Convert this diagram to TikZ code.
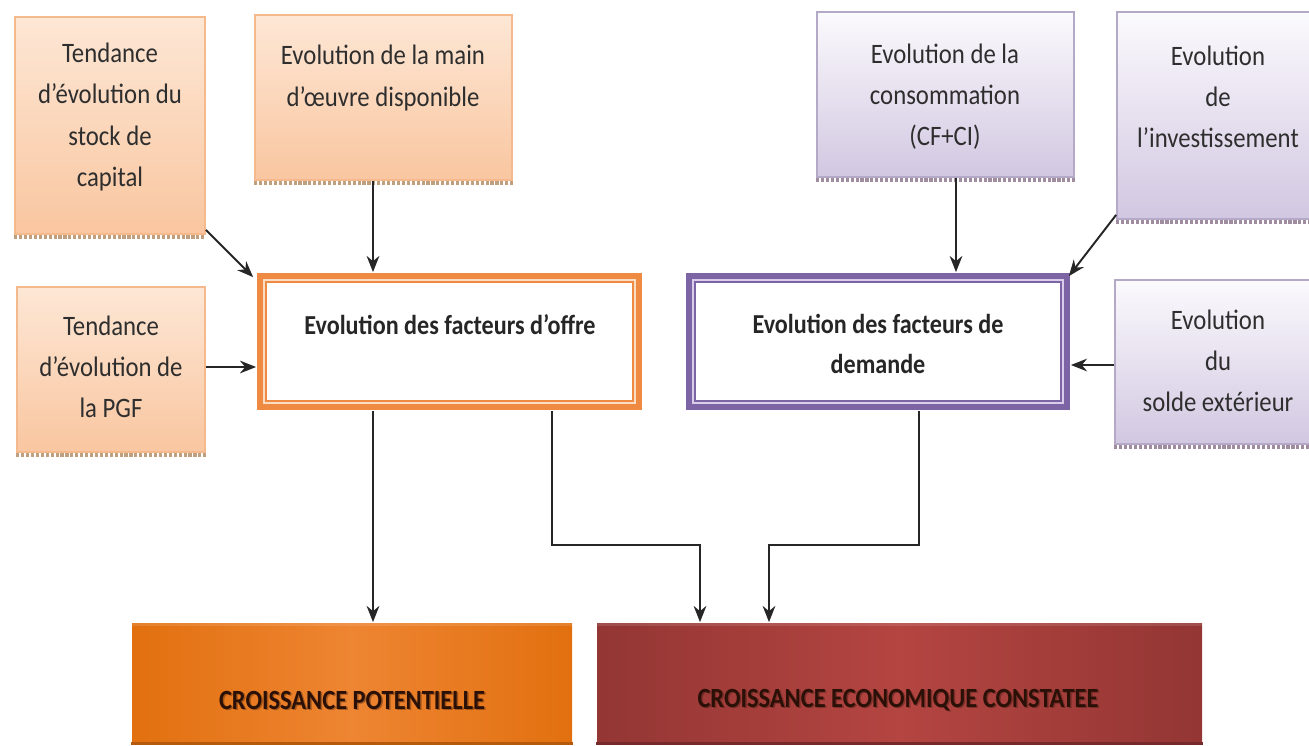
\documentclass[tikz,border=0pt]{standalone}
\usepackage{fontspec}
\setmainfont{Carlito}[FakeStretch=0.88]
\usetikzlibrary{arrows.meta,calc,fit}

\definecolor{peachtop}{HTML}{FDE7D5}
\definecolor{peachbot}{HTML}{F9C6A0}
\definecolor{peachedge}{HTML}{F4B98C}
\definecolor{lilactop}{HTML}{FBFAFD}
\definecolor{lilacbot}{HTML}{D2C7E1}
\definecolor{lilacedge}{HTML}{B4A9C6}
\definecolor{offreband}{HTML}{EF8A42}
\definecolor{offrelight}{HTML}{FBDDC6}
\definecolor{demband}{HTML}{7C64A5}
\definecolor{demlight}{HTML}{D9CDEB}
\definecolor{potedge}{HTML}{E2700F}
\definecolor{potmid}{HTML}{EE8532}
\definecolor{redge}{HTML}{933634}
\definecolor{redmid}{HTML}{B44541}
\definecolor{txt}{HTML}{2E2E2E}
\definecolor{deeptxt}{HTML}{2A1006}

\tikzset{
  boxbase/.style={inner sep=0pt, line width=0.5pt},
  peachbox/.style={boxbase, draw=peachedge, top color=peachtop, bottom color=peachbot},
  lilacbox/.style={boxbase, draw=lilacedge, top color=lilactop, bottom color=lilacbot},
  boxshadow/.style={line width=1.1pt, dash pattern=on 0.9pt off 0.5pt, draw opacity=0.75},
  smalltext/.style={align=center, text=txt, font=\fontsize{8}{11.7}\selectfont},
  midtext/.style={align=center, text=black!85, font=\bfseries\fontsize{7.8}{11.2}\selectfont},
  bigtext/.style={text=deeptxt, font=\bfseries\fontsize{7.9}{9}\selectfont},
  arr/.style={draw=black!85, line width=0.55pt, -{Stealth[length=4.6pt, width=3.6pt]}},
}

\begin{document}
\begin{tikzpicture}[x=0.01cm, y=-0.01cm]
\useasboundingbox (0,0) rectangle (1309,745);
\clip (0,0) rectangle (1309,745);
\fill[white] (0,0) rectangle (1309,745);

% ---------- supply side inputs ----------
\node[peachbox, fit={(15,17) (205,234)}] (A) {};
\node[peachbox, fit={(255,15) (512,180)}] (B) {};
\node[peachbox, fit={(17,287) (205,452)}] (C) {};
\draw[boxshadow, draw=brown!70!gray] ([yshift=-0.6pt]A.south west) -- ([yshift=-0.6pt]A.south east);
\draw[boxshadow, draw=brown!70!gray] ([yshift=-0.6pt]B.south west) -- ([yshift=-0.6pt]B.south east);
\draw[boxshadow, draw=brown!70!gray] ([yshift=-0.6pt]C.south west) -- ([yshift=-0.6pt]C.south east);
\node[smalltext] (tA) at (110,117) {Tendance\\d’évolution du\\stock de\\capital};
\node[smalltext] (tB) at (383,78) {Evolution de la main\\d’œuvre disponible};
\node[smalltext] (tC) at (111,367) {Tendance\\d’évolution de\\la PGF};

% ---------- demand side inputs ----------
\node[lilacbox, fit={(817,12) (1074,177)}] (D) {};
\node[lilacbox, fit={(1117,12) (1330,219)}] (E) {};
\node[lilacbox, fit={(1115,280) (1330,444)}] (F) {};
\draw[boxshadow, draw=gray!80!violet] ([yshift=-0.6pt]D.south west) -- ([yshift=-0.6pt]D.south east);
\draw[boxshadow, draw=gray!80!violet] ([yshift=-0.6pt]E.south west) -- ([yshift=-0.6pt]E.south east);
\draw[boxshadow, draw=gray!80!violet] ([yshift=-0.6pt]F.south west) -- ([yshift=-0.6pt]F.south east);
\node[smalltext] (tD) at (945,97) {Evolution de la\\consommation\\(CF+CI)};
\node[smalltext] (tE) at (1218,97) {Evolution\\de\\l’investissement};
\node[smalltext] (tF) at (1218,361) {Evolution\\du\\solde extérieur};

% ---------- factor boxes (double frame) ----------
\node[boxbase, fill=offreband, fit={(257,273) (642,410)}] (offre) {};
\fill[offrelight] ($(offre.north west)+(7,7)$) rectangle ($(offre.south east)+(-7,-7)$);
\draw[draw=offreband, line width=0.45pt, fill=white] ($(offre.north west)+(10,10)$) rectangle ($(offre.south east)+(-10,-10)$);
\node[midtext] (tO) at (450,325) {Evolution des facteurs d’offre};

\node[boxbase, fill=demband, fit={(686,273) (1070,410)}] (dem) {};
\fill[demlight] ($(dem.north west)+(7,7)$) rectangle ($(dem.south east)+(-7,-7)$);
\draw[draw=demband, line width=0.45pt, fill=white] ($(dem.north west)+(10,10)$) rectangle ($(dem.south east)+(-10,-10)$);
\node[midtext] (tG) at (878,344) {Evolution des facteurs de\\demande};

% ---------- outcomes ----------
\node[boxbase, left color=potedge, right color=potedge, middle color=potmid,
      fit={(132,623) (572,743)}] (pot) {};
\node[boxbase, left color=redge, right color=redge, middle color=redmid,
      fit={(597,623) (1202,743)}] (obs) {};
\fill[white, opacity=0.12] (pot.north west) rectangle ($(pot.north east)+(0,4)$);
\fill[white, opacity=0.12] (obs.north west) rectangle ($(obs.north east)+(0,4)$);
\draw[line width=0.8pt, draw=potedge!80!black] (pot.south west) -- (pot.south east);
\draw[line width=0.8pt, draw=redge!80!black] (obs.south west) -- (obs.south east);
\node[bigtext, text opacity=0.35] at (353.5,701.5) {CROISSANCE POTENTIELLE};
\node[bigtext] (tP) at (352,700) {CROISSANCE POTENTIELLE};
\node[bigtext, text opacity=0.35] at (899.5,701.5) {CROISSANCE ECONOMIQUE CONSTATEE};
\node[bigtext] (tQ) at (898,700) {CROISSANCE ECONOMIQUE CONSTATEE};

% ---------- helper columns and rows for the connectors ----------
\coordinate (c373) at (373,0);
\coordinate (c552) at (552,0);
\coordinate (c700) at (700,0);
\coordinate (c769) at (769,0);
\coordinate (c919) at (919,0);
\coordinate (c956) at (956,0);
\coordinate (r367) at (0,367);
\coordinate (r365) at (0,365);
\coordinate (r545) at (0,545);

% ---------- connectors ----------
\draw[arr] ($(A.south east)+(0,-5)$) -- ($(offre.north west)+(-3,5)$);
\draw[arr] (B.south -| c373) -- (offre.north -| c373);
\draw[arr] (C.east |- r367) -- (offre.west |- r367);

\draw[arr] (D.south -| c956) -- (dem.north -| c956);
\draw[arr] ($(E.south west)+(0,-5)$) -- ($(dem.north east)+(-2,4)$);
\draw[arr] (F.west |- r365) -- (dem.east |- r365);

\draw[arr] (offre.south -| c373) -- (pot.north -| c373);
\draw[arr] (offre.south -| c552) |- (c700 |- r545) -- (obs.north -| c700);
\draw[arr] (dem.south -| c919) |- (c769 |- r545) -- (obs.north -| c769);
\end{tikzpicture}
\end{document}
